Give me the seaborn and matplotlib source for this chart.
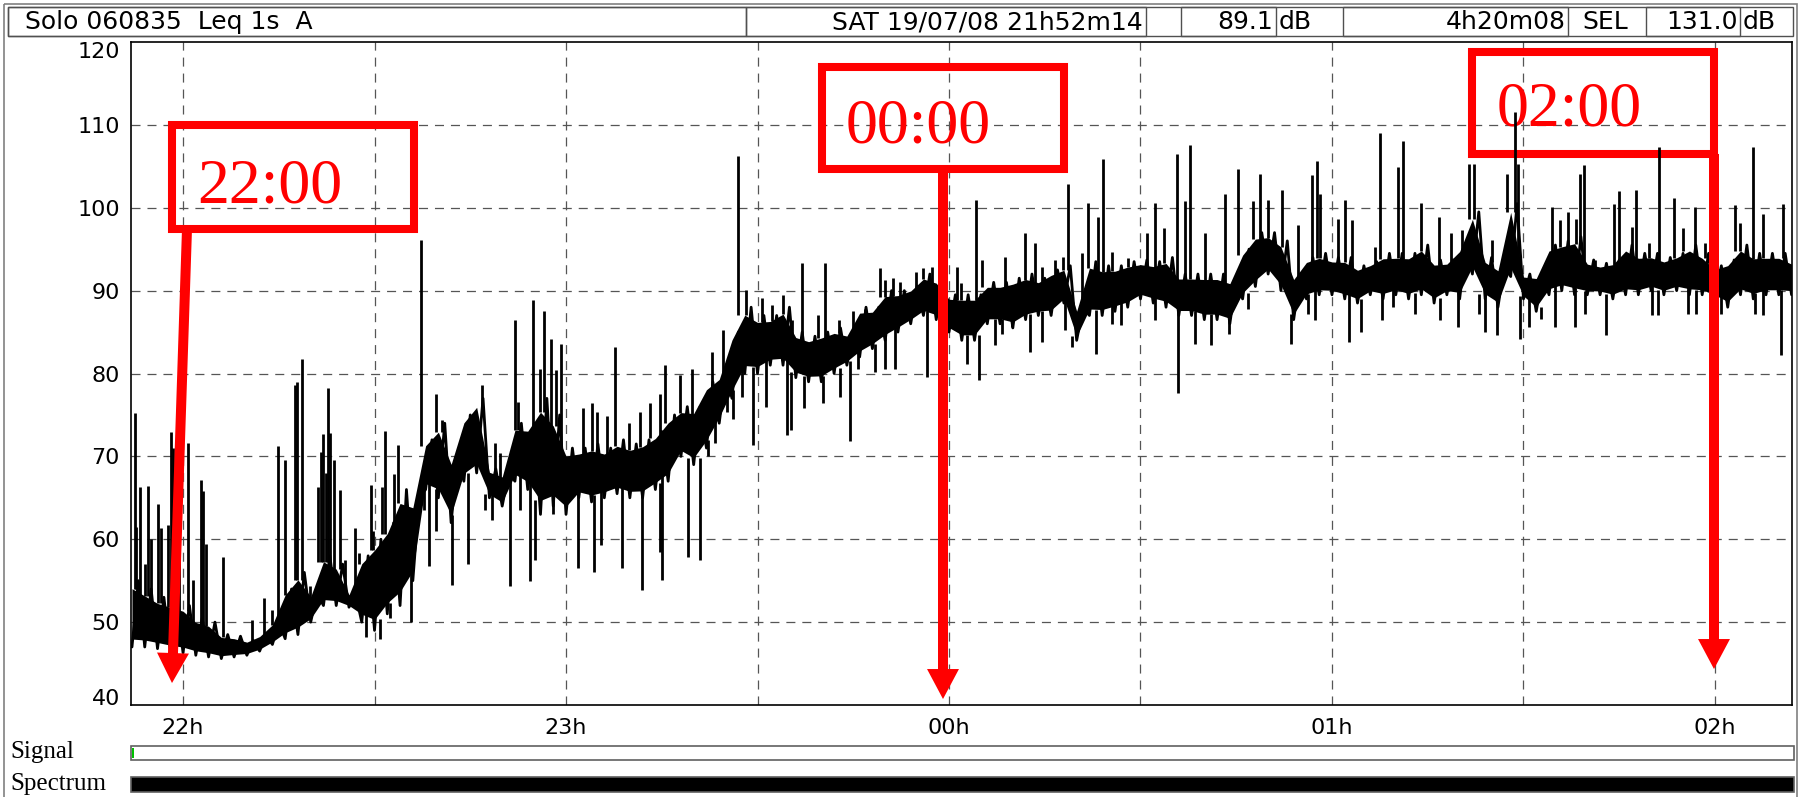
import numpy as np
import pandas as pd
import matplotlib
matplotlib.use("Agg")
import matplotlib.pyplot as plt
import seaborn as sns
from matplotlib.patches import Rectangle, ArrowStyle
from matplotlib.transforms import Affine2D

# ---------------- data (minutes relative to midnight, dB(A)) ----------------
band_t = list(range(-128, 133, 2))
band_lo = [47.0, 47.0, 46.8, 46.5, 46.3, 46.0, 45.8, 45.6, 45.8, 46.0,
           46.5, 47.3, 48.0, 48.5, 50.0, 52.0, 52.0, 51.8, 50.0, 49.0,
           51.0, 52.0, 55.0, 66.0, 65.0, 62.0, 67.0, 68.0, 65.0, 64.0,
           67.0, 66.0, 63.0, 64.0, 63.0, 65.0, 64.5, 65.0, 65.5, 65.0,
           65.0, 66.0, 67.0, 70.0, 69.0, 71.0, 74.0, 77.0, 80.0, 80.0,
           81.0, 81.0, 79.5, 79.0, 79.0, 80.0, 81.0, 82.0, 83.0, 84.0,
           85.0, 86.0, 87.0, 86.5, 85.0, 84.0, 84.0, 86.0, 86.0, 85.5,
           86.5, 87.0, 87.0, 88.5, 84.0, 87.0, 87.0, 87.5, 88.0, 89.0,
           88.5, 88.0, 87.0, 87.0, 86.5, 86.5, 86.0, 89.0, 90.5, 92.0,
           90.0, 86.5, 89.0, 89.5, 89.5, 89.0, 88.5, 89.5, 89.0, 89.5,
           89.0, 89.5, 88.5, 89.5, 89.0, 92.0, 89.0, 88.0, 91.7, 89.0,
           87.5, 89.5, 90.0, 89.5, 89.5, 89.5, 89.0, 89.5, 89.5, 90.0,
           89.5, 90.0, 89.5, 89.5, 89.0, 88.0, 89.5, 89.0, 89.5, 89.5,
           89.5]
band_hi = [55.0, 54.0, 53.0, 52.5, 52.0, 50.5, 50.0, 48.5, 48.3, 47.8,
           48.5, 50.0, 54.0, 56.0, 53.5, 58.0, 57.0, 53.5, 58.0, 60.0,
           62.0, 66.0, 65.0, 72.0, 74.0, 70.0, 75.0, 77.0, 68.5, 68.0,
           74.0, 74.0, 77.0, 75.0, 71.0, 71.0, 71.5, 71.0, 72.0, 71.5,
           72.0, 73.0, 75.0, 76.0, 76.0, 79.0, 80.0, 85.0, 88.0, 87.0,
           87.0, 88.0, 85.0, 84.5, 85.0, 85.5, 85.0, 88.0, 88.0, 90.0,
           90.0, 90.5, 92.0, 91.5, 89.5, 89.5, 89.5, 91.0, 91.0, 91.5,
           92.0, 91.5, 92.5, 93.0, 88.0, 93.5, 93.0, 93.0, 93.5, 93.7,
           93.5, 94.0, 92.0, 92.0, 92.0, 92.0, 91.5, 95.0, 97.0, 97.0,
           96.0, 92.0, 94.0, 94.5, 94.0, 94.0, 93.0, 93.5, 94.5, 94.5,
           94.5, 95.5, 93.7, 93.7, 95.5, 99.5, 94.0, 93.0, 100.5, 92.0,
           92.0, 95.5, 96.0, 96.5, 93.7, 93.3, 93.7, 95.5, 94.5, 94.5,
           94.0, 94.5, 95.5, 94.5, 93.0, 93.7, 95.5, 94.5, 94.5, 94.5,
           93.7]

peak_t = [-127.6, -127.3, -126.7, -126.0, -125.5, -125.0, -124.0, -123.4, -122.4, -121.9,
          -121.5, -120.7, -119.2, -118.4, -117.2, -116.8, -116.4, -113.7, -109.2, -107.3,
          -106.1, -105.1, -104.1, -102.5, -102.1, -101.3, -100.1, -98.8, -98.4, -98.0,
          -97.6, -97.3, -96.9, -96.4, -95.4, -94.6, -93.1, -92.5, -90.5, -90.2,
          -88.9, -88.3, -87.0, -86.3, -84.5, -82.7, -80.3, -79.5, -73.2, -71.2,
          -70.3, -68.0, -67.5, -65.1, -64.1, -63.5, -62.4,
          -61.5, -60.8, -57.3, -56.0, -55.2, -53.6, -52.4, -50.2, -48.4, -46.8,
          -45.3, -44.5, -42.1, -40.3, -37.2, -35.4, -33.0, -31.8, -29.3, -27.8,
          -26.0, -24.6, -23.1, -20.5, -19.5, -17.3, -15.0, -13.2, -10.8, -10.0,
          -8.7, -7.7, -5.1, -4.0, -2.7, 1.2, 1.9,
          4.3, 5.1, 8.8, 11.9, 13.5, 14.5, 16.6, 17.9, 18.7, 20.8,
          21.8, 23.4, 24.2, 25.5, 28.1, 31.0, 32.2, 33.7, 35.7, 37.0,
          37.8, 40.1, 43.2, 45.3, 47.7, 48.8, 50.0, 52.1, 54.7, 56.8,
          57.6, 58.1, 60.9, 62.0, 63.2, 66.7, 67.5,
          70.4, 71.2, 73.9, 76.7, 78.7, 80.3, 81.4, 82.3, 85.0, 87.4,
          88.6, 89.1, 94.4, 95.7, 96.9, 98.3, 98.9, 99.5, 101.2, 104.2,
          104.9, 107.0, 107.7, 109.6, 111.2, 113.6, 115.0, 116.9, 118.4, 123.1,
          123.9, 126.0, 127.6, 130.7]
peak_v = [75.2, 61.5, 66.3, 57.0, 66.4, 60.0, 64.3, 61.3, 61.7, 73.0,
          71.0, 63.0, 71.6, 55.1, 67.1, 65.8, 59.4, 57.8, 50.3, 52.9,
          51.5, 71.2, 69.6, 78.6, 79.0, 81.8, 54.3, 66.3, 70.5, 72.7,
          68.0, 78.2, 72.8, 69.6, 65.9, 57.5, 61.4, 58.3, 66.5, 61.0,
          66.3, 73.1, 67.9, 71.4, 62.0, 96.1, 77.5, 74.4, 78.6, 71.6,
          70.4, 86.4, 76.6, 88.9, 80.6, 87.6, 84.2,
          80.4, 83.6, 75.8, 76.5, 75.3, 74.9, 83.2, 74.0, 75.3, 76.5,
          77.5, 81.0, 79.8, 80.6, 82.6, 85.2, 106.3, 90.1, 89.1, 88.3,
          89.5, 86.4, 93.3, 87.0, 93.3, 86.4, 87.6, 87.8, 92.7, 91.3,
          91.5, 91.1, 92.3, 92.7, 92.9, 92.9, 90.9,
          100.9, 93.7, 94.1, 96.9, 95.7, 92.9, 93.7, 94.1, 102.9, 94.5,
          100.6, 98.9, 105.9, 94.7, 93.9, 96.9, 100.6, 97.5, 106.5, 100.8,
          107.6, 96.9, 101.7, 104.7, 100.8, 104.1, 100.9, 102.1, 97.9, 103.9,
          105.7, 101.7, 98.7, 100.9, 98.5, 95.3, 109.0,
          104.9, 108.0, 100.6, 98.9, 96.9, 97.3, 105.3, 105.3, 96.1, 104.1,
          111.5, 105.3, 100.1, 98.5, 99.5, 98.7, 104.1, 105.1, 93.7, 100.4,
          102.0, 97.7, 102.2, 95.7, 107.3, 101.2, 97.5, 100.1, 95.7, 100.3,
          98.1, 107.3, 99.3, 100.4]

dip_t = [-91.4, -89.2, -87.6, -84.3, -82.3, -81.4, -80.3, -77.9, -75.3, -72.7,
         -71.6, -68.8, -67.2, -65.6, -64.9, -62.0,
         -58.1, -55.6, -54.5, -51.3, -48.1, -45.3, -44.9, -40.9, -39.0, -37.7,
         -36.7, -34.8, -33.8, -32.5, -30.7, -28.6, -25.4, -24.8, -22.7, -19.7,
         -17.1, -15.5, -14.2, -11.6, -10.0, -8.5, -3.5, 2.8,
         4.7, 7.2, 8.3, 9.8, 12.7, 14.5, 18.2, 19.2, 23.1, 25.5,
         27.0, 32.3, 35.9, 38.5, 41.1, 43.8, 46.9, 53.6, 56.3, 57.3,
         62.6, 64.6, 67.8, 69.6,
         73.0, 76.9, 79.8, 83.1, 84.0, 85.8, 89.5, 90.8, 92.8, 95.0,
         98.1, 99.6, 103.0, 110.1, 111.1, 115.8, 117.1, 121.0, 126.3, 127.6,
         130.3]
dip_v = [48.2, 48.0, 50.5, 50.0, 63.5, 56.8, 61.0, 54.5, 57.0, 63.5,
         62.3, 54.4, 63.5, 55.0, 57.5, 63.0,
         56.5, 56.1, 59.3, 56.5, 53.9, 58.5, 55.1, 57.9, 57.5, 70.0,
         71.6, 75.3, 74.5, 77.2, 71.4, 76.0, 72.6, 73.2, 75.8, 76.5,
         77.2, 71.8, 80.6, 80.2, 80.6, 80.6, 79.6, 81.2,
         79.2, 83.4, 84.8, 85.6, 82.6, 83.8, 85.2, 83.2, 82.4, 86.0,
         85.8, 86.4, 77.6, 83.6, 83.4, 84.8, 87.8, 83.6, 87.2, 86.4,
         83.8, 85.0, 86.4, 88.0,
         87.2, 86.4, 85.6, 87.2, 85.0, 84.6, 84.2, 85.6, 86.6, 85.6,
         85.6, 87.2, 84.6, 87.0, 87.0, 87.2, 87.2, 87.2, 87.2, 87.0,
         82.2]

hour_ticks = [-120, -60, 0, 60, 120]
hour_labels = ["22h", "23h", "00h", "01h", "02h"]
half_hour_ticks = [-90, -30, 30, 90]
y_ticks = [40, 50, 60, 70, 80, 90, 100, 110, 120]
grid_levels = [50, 60, 70, 80, 90, 100, 110]

marker_labels = ["22:00", "00:00", "02:00"]

header_title = "Solo 060835  Leq 1s  A"
header_date = "SAT 19/07/08 21h52m14"
header_leq = "89.1"
header_duration = "4h20m08"
header_sel = "131.0"

# ---------------- figure ----------------
sns.set_style("white")
plt.rcParams["font.family"] = ["DejaVu Sans"]
plt.rcParams["lines.scale_dashes"] = False

W, H = 1804, 797
fig = plt.figure(figsize=(W / 100, H / 100), dpi=100, facecolor="white")
px = Affine2D().scale(1.0 / W, -1.0 / H).translate(0, 1) + fig.transFigure

ax_l, ax_r, ax_t, ax_b = 131, 1792, 42, 705
ax = fig.add_axes([ax_l / W, (H - ax_b) / H, (ax_r - ax_l) / W, (ax_b - ax_t) / H])
ax.set_facecolor("white")

# grid (dashed)
grid_kw = dict(color="#555555", lw=0.9, ls=(0, (6.5, 5)), zorder=1)
for g in grid_levels:
    ax.axhline(g, **grid_kw)
for m in sorted(hour_ticks + half_hour_ticks):
    ax.axvline(m, **grid_kw)

# level trace: solid core of the band, a zig-zag pen stroke through its
# extremes, and the individual peaks / dips
lo_arr = np.array(band_lo)
hi_arr = np.array(band_hi)
t_arr = np.array(band_t, dtype=float)
core_lo = lo_arr + 0.12 * (hi_arr - lo_arr)
core_hi = hi_arr - 0.12 * (hi_arr - lo_arr)
ax.fill_between(t_arr, core_lo, core_hi, color="black", lw=0, zorder=3)

zig = pd.DataFrame({
    "t": np.concatenate([t_arr, t_arr + 1.0]),
    "v": np.concatenate([lo_arr, hi_arr]),
}).sort_values("t", kind="mergesort").reset_index(drop=True)
sns.lineplot(data=zig, x="t", y="v", color="black", lw=2.0, ax=ax, zorder=3,
             sort=False, estimator=None)

def nearest(ts):
    return np.clip(np.rint((np.array(ts) - band_t[0]) / 2).astype(int), 0, len(band_t) - 1)
pk_idx = nearest(peak_t)
dp_idx = nearest(dip_t)
ax.vlines(peak_t, core_hi[pk_idx], peak_v, color="black", lw=2.0, zorder=3)
ax.vlines(dip_t, core_lo[dp_idx], dip_v, color="black", lw=2.0, zorder=3)

ax.set_xlim((ax_l - 949) / 6.383, (ax_r - 949) / 6.383)
ax.set_ylim(40, 120)
ax.set_xlabel("")
ax.set_ylabel("")
ax.set_xticks(hour_ticks)
ax.set_xticklabels(hour_labels)
ax.set_xticks(half_hour_ticks, minor=True)
ax.set_yticks(y_ticks)
ax.set_yticklabels([str(v) for v in y_ticks])
ax.tick_params(axis="x", which="both", direction="out", length=5, width=1.1,
               pad=4, labelsize=16, colors="black")
ax.tick_params(axis="y", which="both", direction="out", length=7, width=1.1,
               pad=1, labelsize=16, colors="black")
yt = ax.yaxis.get_major_ticks()
yt[0].label1.set_va("baseline")
yt[-1].label1.set_va("top")
for s in ax.spines.values():
    s.set_visible(True)
    s.set_color("black")
    s.set_linewidth(1.2)

# ---------------- red annotations ----------------
RED = "#FF0000"
box_t0 = [-121.73, -19.90, 81.94]
box_t1 = [-83.82, 18.02, 119.85]
box_vtop = [109.98, 116.98, 118.79]
box_vbot = [97.44, 104.68, 106.49]
txt_t = [-106.45, -4.78, 97.21]
txt_v = [100.69, 107.93, 109.98]
arr_from = [(-119.38, 97.44), (-0.94, 104.68), (119.85, 106.49)]
arr_to = [(-121.73, 42.65), (-0.94, 40.72), (119.85, 44.34)]

arrow_style = ArrowStyle.Simple(head_length=21.6, head_width=23.0, tail_width=7.2)
for i, lab in enumerate(marker_labels):
    ax.add_patch(Rectangle((box_t0[i], box_vbot[i]), box_t1[i] - box_t0[i],
                           box_vtop[i] - box_vbot[i], fill=False, ec=RED,
                           lw=5.8, joinstyle="miter", zorder=2, clip_on=False))
    ax.text(txt_t[i], txt_v[i], lab, color=RED, fontsize=46,
            family=["Liberation Serif", "DejaVu Serif"], ha="center",
            va="baseline", zorder=2)
    ax.annotate("", xy=arr_to[i], xytext=arr_from[i], xycoords="data",
                arrowprops=dict(arrowstyle=arrow_style, mutation_scale=1,
                                color=RED, lw=0, shrinkA=0, shrinkB=0),
                zorder=6, annotation_clip=False)

# ---------------- instrument frame / header ----------------
def prect(x0, y0, x1, y1, **kw):
    fig.add_artist(Rectangle((x0, y0), x1 - x0, y1 - y0, transform=px, **kw))

prect(4, 4, 1797, 820, fill=False, ec="#808080", lw=1.2)
prect(8, 7, 1793, 36, fill=False, ec="#505050", lw=1.0)
for (x0, x1) in [(8, 746), (746, 1146), (1181, 1276), (1343, 1568), (1646, 1740)]:
    prect(x0, 7, x1, 36, fill=False, ec="#505050", lw=1.0)

hdr_kw = dict(transform=px, va="center", fontsize=18, color="black")
fig.text(25, 22, header_title, ha="left", **hdr_kw)
fig.text(1143, 22, header_date, ha="right", **hdr_kw)
fig.text(1273, 22, header_leq, ha="right", **hdr_kw)
fig.text(1279, 22, "dB", ha="left", **hdr_kw)
fig.text(1566, 22, header_duration, ha="right", **hdr_kw)
fig.text(1582, 22, "SEL", ha="left", **hdr_kw)
fig.text(1738, 22, header_sel, ha="right", **hdr_kw)
fig.text(1743, 22, "dB", ha="left", **hdr_kw)

# Signal / Spectrum bars
prect(131, 746, 1794, 760, fill=True, fc="white", ec="#606060", lw=1.2)
prect(132, 748, 134, 758, fill=True, fc="#00C000", ec="none", lw=0)
prect(131, 777, 1794, 792, fill=True, fc="black", ec="#606060", lw=1.2)
lab_kw = dict(transform=px, va="center", ha="left", fontsize=18,
              family=["Liberation Serif", "DejaVu Serif"], color="black")
fig.text(10, 752, "Signal", **lab_kw)
fig.text(10, 784, "Spectrum", **lab_kw)

fig.savefig("out.png", dpi=100, facecolor="white")
